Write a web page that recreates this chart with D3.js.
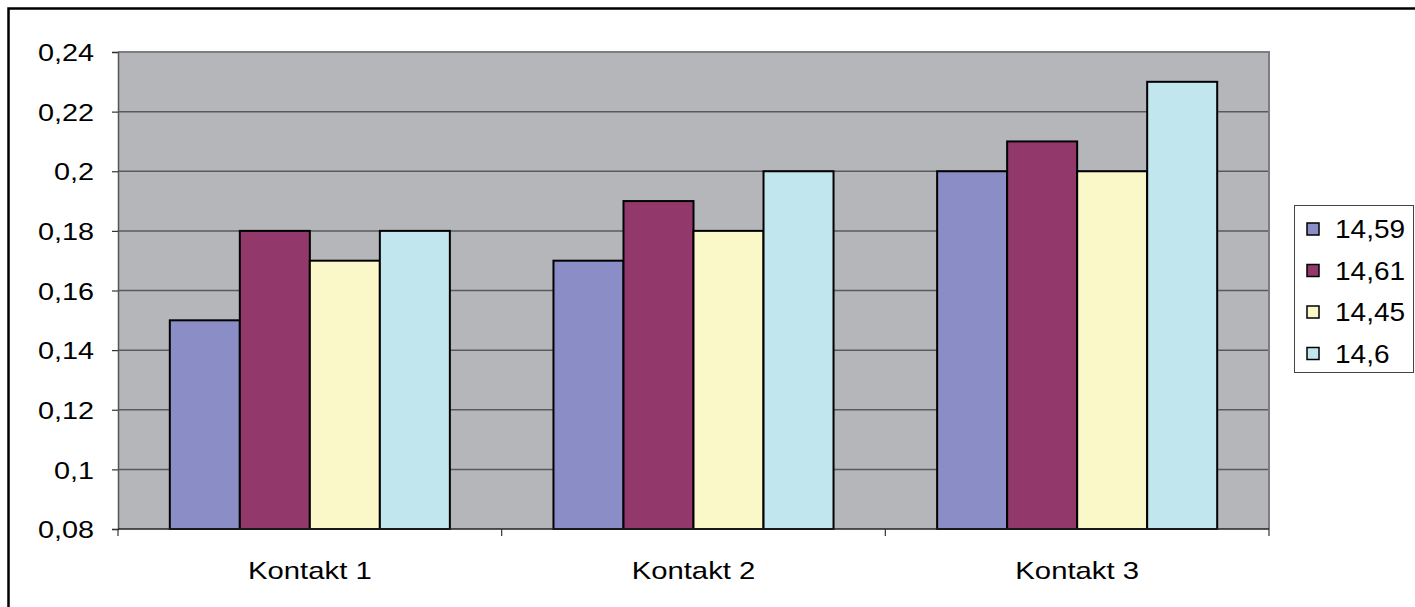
<!DOCTYPE html>
<html>
<head>
<meta charset="utf-8">
<script src="https://cdn.jsdelivr.net/npm/d3@7"></script>
<style>
  html, body { margin: 0; padding: 0; background: #fff; }
  svg { display: block; }
  text { font-family: "Liberation Sans", Arial, sans-serif; fill: #000; }
</style>
</head>
<body>
<svg id="chart" width="1415" height="607"></svg>
<script>
// Categories, series and values
const categories = ["Kontakt 1", "Kontakt 2", "Kontakt 3"];
const seriesNames = ["14,59", "14,61", "14,45", "14,6"];
const seriesColors = ["#8B8DC6", "#93386B", "#FAF7C8", "#C2E6EE"];
const s1459 = [0.15, 0.17, 0.20];
const s1461 = [0.18, 0.19, 0.21];
const s1445 = [0.17, 0.18, 0.20];
const s146  = [0.18, 0.20, 0.23];
const seriesValues = [s1459, s1461, s1445, s146];
const yTicks = [0.08, 0.10, 0.12, 0.14, 0.16, 0.18, 0.20, 0.22, 0.24];
const yTickLabels = ["0,08", "0,1", "0,12", "0,14", "0,16", "0,18", "0,2", "0,22", "0,24"];

const svg = d3.select("#chart");
const plot = { left: 118, right: 1269, top: 52, bottom: 529 };

// Outer chart frame
svg.append("rect")
  .attr("x", 8.5).attr("y", 8.5)
  .attr("width", 1440).attr("height", 640)
  .attr("fill", "#fff").attr("stroke", "#000").attr("stroke-width", 2.5);

const x0 = d3.scaleBand().domain(categories).range([plot.left, plot.right]).padding(0);
const x1 = d3.scaleBand().domain(seriesNames).range([0, x0.bandwidth()]).paddingInner(0).paddingOuter(0.74);
const y = d3.scaleLinear().domain([0.08, 0.24]).range([plot.bottom, plot.top]);

// Plot background
svg.append("rect")
  .attr("x", plot.left).attr("y", plot.top)
  .attr("width", plot.right - plot.left).attr("height", plot.bottom - plot.top)
  .attr("fill", "#B5B6BA");

// Horizontal gridlines
svg.append("g").selectAll("line")
  .data(yTicks.slice(1))
  .join("line")
  .attr("x1", plot.left).attr("x2", plot.right)
  .attr("y1", d => y(d)).attr("y2", d => y(d))
  .attr("stroke", "#5a5a5e").attr("stroke-width", 1.5);

// Plot area border (top / right)
svg.append("path")
  .attr("d", `M${plot.left},${plot.top}H${plot.right}V${plot.bottom}`)
  .attr("fill", "none").attr("stroke", "#7d7e82").attr("stroke-width", 2);

// Bars
const groups = svg.append("g").selectAll("g")
  .data(categories)
  .join("g")
  .attr("transform", d => `translate(${x0(d)},0)`);

groups.selectAll("rect")
  .data((c, ci) => seriesNames.map((s, si) => ({ s, si, v: seriesValues[si][ci] })))
  .join("rect")
  .attr("x", d => x1(d.s))
  .attr("y", d => y(d.v))
  .attr("width", x1.bandwidth())
  .attr("height", d => y(0.08) - y(d.v))
  .attr("fill", d => seriesColors[d.si])
  .attr("stroke", "#000").attr("stroke-width", 2);

// Y axis
const yAxis = svg.append("g")
  .attr("transform", `translate(${plot.left},0)`)
  .call(d3.axisLeft(y).tickValues(yTicks).tickSize(6).tickFormat((d, i) => yTickLabels[i]));
yAxis.select(".domain").attr("stroke", "#555").attr("stroke-width", 1.5);
yAxis.selectAll(".tick line").attr("stroke", "#333").attr("stroke-width", 1.2);
yAxis.selectAll(".tick text")
  .attr("x", 0).attr("dy", "0.36em")
  .attr("font-size", 24)
  .attr("text-anchor", "end")
  .attr("transform", "translate(-24,0) scale(1.2,1)");

// X axis
const xAxis = svg.append("g")
  .attr("transform", `translate(0,${plot.bottom})`)
  .call(d3.axisBottom(x0).tickSize(0).tickPadding(0));
xAxis.select(".domain").remove();
xAxis.append("line")
  .attr("x1", plot.left).attr("x2", plot.right)
  .attr("stroke", "#222").attr("stroke-width", 1.5);
xAxis.selectAll(".boundary")
  .data(x0.domain().map(d => x0(d)).concat([plot.right]))
  .join("line")
  .attr("class", "boundary")
  .attr("x1", d => d).attr("x2", d => d)
  .attr("y1", 0).attr("y2", 7)
  .attr("stroke", "#333").attr("stroke-width", 1.2);
xAxis.selectAll(".tick text")
  .attr("y", 0).attr("dy", 0)
  .attr("font-size", 24)
  .attr("transform", "translate(0,50) scale(1.22,1)");

// Legend
const legend = svg.append("g").attr("transform", "translate(1294,205)");
legend.append("rect")
  .attr("x", 0.5).attr("y", 0.5).attr("width", 119).attr("height", 167)
  .attr("fill", "#fff").attr("stroke", "#444").attr("stroke-width", 1);
const items = legend.selectAll(".item")
  .data(seriesNames)
  .join("g")
  .attr("class", "item")
  .attr("transform", (d, i) => `translate(0,${24 + i * 41.5})`);
items.append("rect")
  .attr("x", 13).attr("y", -6).attr("width", 12).attr("height", 12)
  .attr("fill", (d, i) => seriesColors[i])
  .attr("stroke", "#000").attr("stroke-width", 1.5);
items.append("text")
  .attr("dy", "0.36em")
  .attr("font-size", 25)
  .attr("transform", "translate(41,0) scale(1.12,1)")
  .text(d => d);
</script>
</body>
</html>
